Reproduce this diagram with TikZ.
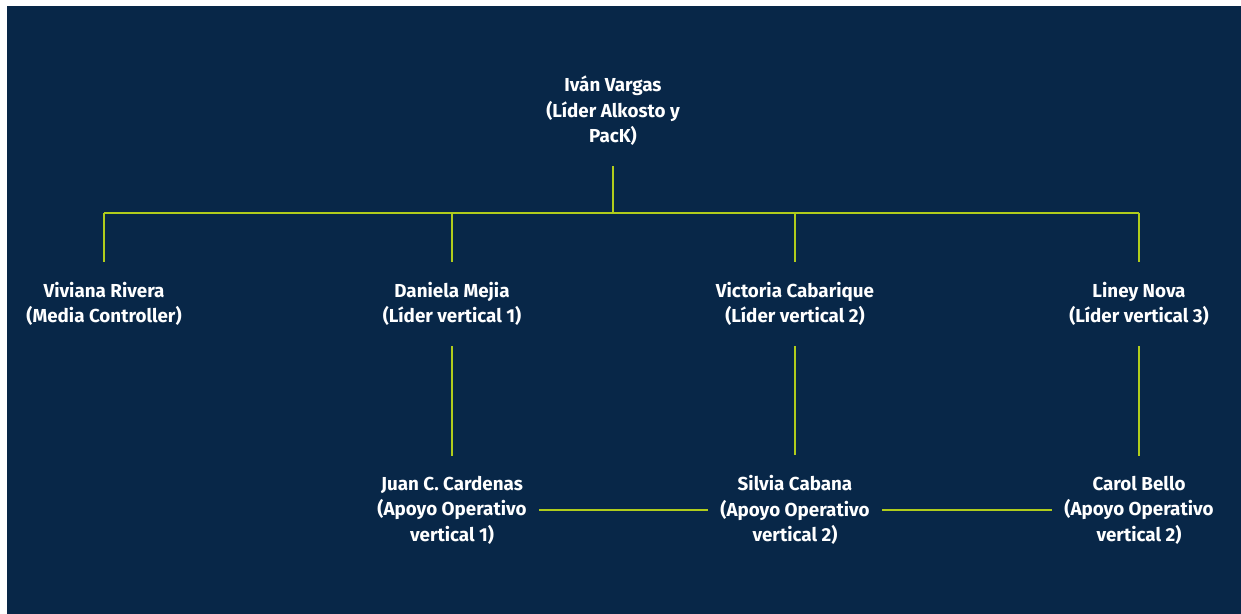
\documentclass[tikz,border=0pt]{standalone}
\usepackage{fontspec}
\setmainfont{Fira Sans}
\usepackage{tikz}
\usetikzlibrary{positioning, calc}
\definecolor{mynavy}{RGB}{8,39,72}
\definecolor{mylime}{RGB}{176,204,28}
\tikzset{
  person/.style={text=white, align=center, font=\fontsize{10.7}{14.5}\selectfont\bfseries,
    inner xsep=0.25cm, inner ysep=0.4cm},
  link/.style={draw=mylime, line width=1.1pt}
}
\begin{document}
\begin{tikzpicture}
  % background
  \useasboundingbox (0,0) rectangle (24.82,-12.28);
  \fill[mynavy] (0.14,-0.12) rectangle (24.82,-12.28);

  % Lider
  \node[person] (ivan) at (12.26,-2.22) {Iván Vargas\\(Líder Alkosto y\\PacK)};
  \coordinate (bus) at (12.26,-4.26);

  % Lideres verticales
  \node[person] (viviana) at (2.08,-6.08) {Viviana Rivera\\(Media Controller)};
  \node[person] (daniela) at (9.04,-6.08) {Daniela Mejia\\(Líder vertical 1)};
  \node[person] (victoria) at (15.9,-6.08) {Victoria Cabarique\\(Líder vertical 2)};
  \node[person] (liney) at (22.78,-6.08) {Liney Nova\\(Líder vertical 3)};

  % Apoyo operativo
  \node[person] (juan) at (9.04,-10.2) {Juan C. Cardenas\\(Apoyo Operativo\\vertical 1)};
  \node[person] (silvia) at (15.9,-10.2) {Silvia Cabana\\(Apoyo Operativo\\vertical 2)};
  \node[person] (carol) at (22.78,-10.2) {Carol Bello\\(Apoyo Operativo\\vertical 2)};

  % tree
  \draw[link] (ivan) -- (bus);
  \draw[link] (viviana |- bus) -- (liney |- bus);
  \foreach \n in {viviana, daniela, victoria, liney}
    \draw[link] (\n |- bus) -- (\n);
  \draw[link] (daniela) -- (juan);
  \draw[link] (victoria) -- (silvia);
  \draw[link] (liney) -- (carol);
  \draw[link] (juan) -- (silvia);
  \draw[link] (silvia) -- (carol);
\end{tikzpicture}
\end{document}
